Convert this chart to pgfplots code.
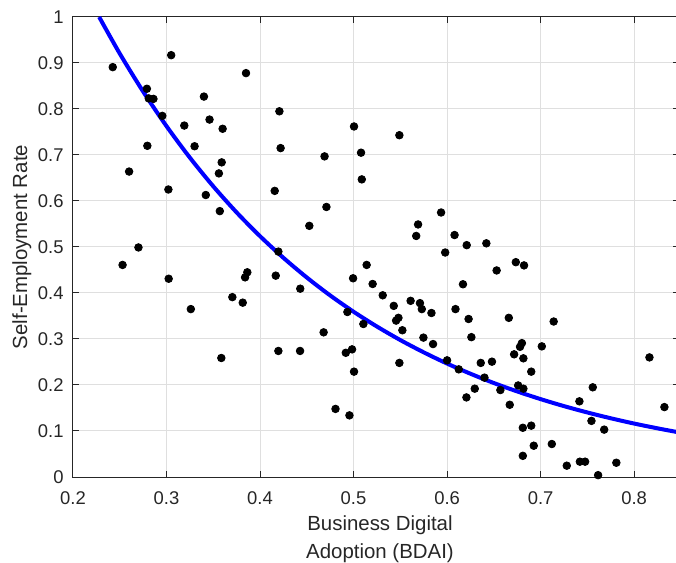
\documentclass[border=0pt]{standalone}
\usepackage{pgfplots}
\pgfplotsset{compat=1.18}
\usepackage{fontspec}
\setmainfont{Liberation Sans}
\definecolor{axgray}{RGB}{38,38,38}
\definecolor{gridgray}{RGB}{223,223,223}
\begin{document}
\begin{tikzpicture}
\begin{axis}[
  scale only axis, width=303bp, height=230bp,
  xmin=0.2, xmax=0.848, ymin=0, ymax=1,
  xtick={0.2,0.3,0.4,0.5,0.6,0.7,0.8},
  ytick={0,0.1,0.2,0.3,0.4,0.5,0.6,0.7,0.8,0.9,1},
  grid=major, major grid style={gridgray, line width=0.5bp},
  axis line style={axgray, line width=0.5bp},
  tick style={axgray, line width=0.5bp}, major tick length=3bp,
  tick align=inside,
  /pgf/number format/assume math mode=true,
  /pgf/number format/fixed,
  xticklabel style={font=\fontsize{9.25}{10}\selectfont, text=axgray, inner sep=0pt, anchor=north, yshift=-7bp},
  yticklabel style={font=\fontsize{9.25}{10}\selectfont, text=axgray, inner sep=0pt, anchor=east, xshift=-4.5bp},
  xlabel={Business Digital\\Adoption (BDAI)},
  xlabel style={font=\fontsize{10.25}{14}\selectfont, text=axgray, align=center, inner sep=0pt, at={(rel axis cs:0.5,0)}, anchor=north, yshift=-19bp, xshift=2bp},
  ylabel={Self-Employment Rate},
  ylabel style={font=\fontsize{10.25}{14}\selectfont, text=axgray, inner sep=0pt, at={(rel axis cs:-0.0759,0.5)}, anchor=base},
]
\coordinate (sw) at (rel axis cs:0,0);
\coordinate (ne) at (rel axis cs:1,1);
\addplot[blue, line width=2bp, no marks, smooth] coordinates {
(0.228,1.000) (0.25,0.9205) (0.275,0.8379) (0.30,0.7627) (0.325,0.6942)
(0.35,0.6319) (0.375,0.5751) (0.40,0.5235) (0.425,0.4765) (0.45,0.4337)
(0.475,0.3947) (0.50,0.3593) (0.525,0.3271) (0.55,0.2977) (0.575,0.2710)
(0.60,0.2466) (0.625,0.2245) (0.65,0.2043) (0.675,0.1860) (0.70,0.1693)
(0.725,0.1541) (0.75,0.1403) (0.775,0.1277) (0.80,0.1162) (0.825,0.1058)
(0.848,0.0970)
};
\addplot[only marks, mark=*, mark size=1.9bp, mark options={draw=black, fill=black}] table {
x y
0.2425 0.891
0.305 0.917
0.385 0.878
0.279 0.844
0.281 0.823
0.286 0.822
0.340 0.827
0.2955 0.785
0.346 0.777
0.319 0.764
0.360 0.757
0.2795 0.720
0.330 0.719
0.359 0.684
0.260 0.664
0.356 0.660
0.302 0.625
0.342 0.613
0.357 0.578
0.270 0.499
0.4207 0.795
0.422 0.715
0.469 0.697
0.5005 0.762
0.508 0.705
0.549 0.743
0.5088 0.647
0.4157 0.622
0.471 0.587
0.4527 0.546
0.569 0.549
0.567 0.524
0.5936 0.575
0.608 0.526
0.621 0.504
0.642 0.508
0.598 0.488
0.6735 0.467
0.6823 0.460
0.653 0.449
0.617 0.419
0.571 0.378
0.573 0.365
0.5833 0.3565
0.609 0.365
0.623 0.3435
0.666 0.346
0.714 0.338
0.5747 0.303
0.585 0.289
0.626 0.304
0.680 0.291
0.678 0.283
0.6717 0.2667
0.6816 0.258
0.7013 0.284
0.8164 0.260
0.600 0.2536
0.6125 0.234
0.636 0.248
0.648 0.2507
0.640 0.216
0.690 0.229
0.6296 0.192
0.657 0.189
0.676 0.199
0.6816 0.192
0.6207 0.173
0.667 0.157
0.7558 0.195
0.7415 0.1645
0.8324 0.152
0.7544 0.122
0.768 0.103
0.681 0.107
0.690 0.1116
0.712 0.0717
0.6927 0.068
0.681 0.046
0.728 0.0246
0.742 0.0333
0.7476 0.0333
0.781 0.031
0.7615 0.004
0.4196 0.490
0.3864 0.445
0.384 0.434
0.4168 0.4377
0.443 0.4094
0.3815 0.379
0.514 0.461
0.4995 0.432
0.5204 0.4196
0.5312 0.395
0.543 0.372
0.561 0.383
0.4934 0.3587
0.5105 0.3326
0.548 0.346
0.5455 0.340
0.5522 0.319
0.468 0.3145
0.4196 0.274
0.4428 0.274
0.4984 0.2775
0.4917 0.270
0.5005 0.229
0.549 0.248
0.4807 0.148
0.4956 0.134
0.253 0.461
0.3023 0.431
0.326 0.365
0.3586 0.2587
0.3704 0.391
};
\end{axis}
\pgfresetboundingbox
\path ([shift={(-36.5bp,-43bp)}]sw) rectangle ([shift={(-1.5bp,8.5bp)}]ne);
\end{tikzpicture}
\end{document}
